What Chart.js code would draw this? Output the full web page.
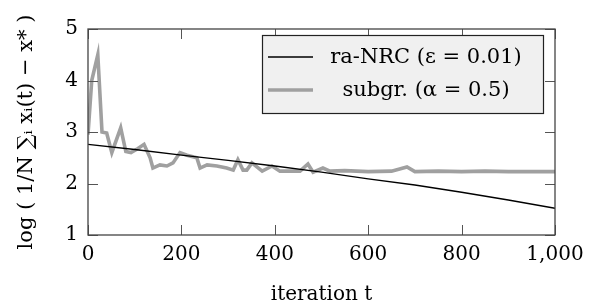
<!DOCTYPE html>
<html>
<head>
<meta charset="utf-8">
<script src="https://cdn.jsdelivr.net/npm/chart.js@4.4.1/dist/chart.umd.min.js"></script>
<style>
  html, body { margin: 0; padding: 0; background: #fff; }
  #wrap { width: 602px; height: 307px; position: relative; }
</style>
</head>
<body>
<div id="wrap"><canvas id="c"></canvas></div>
<script>
// ra-NRC (eps = 0.01)
const nrcT = [0, 100, 200, 300, 400, 500, 600, 700, 800, 900, 1000]
const nrcV = [2.76, 2.66, 2.55, 2.45, 2.34, 2.22, 2.09, 1.97, 1.83, 1.68, 1.52]

// subgradient (alpha = 0.5)
const subT = [0, 8, 21, 30, 40, 51, 70, 81, 92, 107, 120, 133, 139, 154, 169, 182, 197, 212, 233, 240,
  255, 276, 297, 311, 321, 332, 340, 351, 373, 394, 411, 454, 471, 482, 503, 518, 550, 600, 650, 683,
  700, 750, 800, 850, 900, 950, 1000]
const subV = [2.95, 4.0, 4.5, 3.0, 2.98, 2.6, 3.08, 2.62, 2.6, 2.68, 2.76, 2.5, 2.3, 2.36, 2.34, 2.4, 2.6, 2.55, 2.5, 2.3,
  2.36, 2.34, 2.3, 2.26, 2.46, 2.26, 2.26, 2.4, 2.24, 2.34, 2.24, 2.24, 2.38, 2.22, 2.3, 2.24, 2.25, 2.23, 2.24, 2.32,
  2.23, 2.24, 2.23, 2.24, 2.23, 2.23, 2.23]

const xTicks = [0, 200, 400, 600, 800, 1000]
const yTicks = [1, 2, 3, 4, 5]
const labels = ['ra-NRC (\u03B5 = 0.01)', 'subgr. (\u03B1 = 0.5)']

const serif = '"DejaVu Serif", "Liberation Serif", serif'
const gray = 'rgb(160,160,160)'

// frame, inner tick marks and the boxed legend
const pgfLook = {
  id: 'pgfLook',
  afterDatasetsDraw(chart) {
    const ctx = chart.ctx
    const a = chart.chartArea
    const xs = chart.scales.x
    const ys = chart.scales.y
    ctx.save()
    ctx.strokeStyle = '#555'
    ctx.lineWidth = 1
    ctx.beginPath()
    xTicks.forEach(t => {
      const px = Math.round(xs.getPixelForValue(t)) + 0.5
      ctx.moveTo(px, a.bottom); ctx.lineTo(px, a.bottom - 10)
      ctx.moveTo(px, a.top); ctx.lineTo(px, a.top + 10)
    })
    yTicks.forEach(v => {
      const py = Math.round(ys.getPixelForValue(v)) + 0.5
      ctx.moveTo(a.left, py); ctx.lineTo(a.left + 10, py)
      ctx.moveTo(a.right, py); ctx.lineTo(a.right - 10, py)
    })
    ctx.stroke()
    ctx.strokeStyle = '#444'
    ctx.lineWidth = 1.3
    ctx.strokeRect(a.left, a.top, a.right - a.left, a.bottom - a.top)

    // legend
    const lx = 262, ly = 35, lw = 281, lh = 78
    ctx.fillStyle = '#f0f0f0'
    ctx.fillRect(lx, ly, lw, lh)
    ctx.strokeStyle = '#222'
    ctx.lineWidth = 1.2
    ctx.strokeRect(lx + 0.5, ly + 0.5, lw, lh)
    ctx.font = '21px ' + serif
    ctx.textBaseline = 'middle'
    ctx.textAlign = 'center'
    chart.data.datasets.forEach((ds, i) => {
      const cy = ly + 22 + i * 33
      ctx.strokeStyle = ds.borderColor
      ctx.lineWidth = ds.borderWidth
      ctx.beginPath()
      ctx.moveTo(lx + 6, cy); ctx.lineTo(lx + 51, cy)
      ctx.stroke()
      ctx.fillStyle = '#000'
      ctx.fillText(ds.label, lx + 164, cy + 1)
    })
    ctx.restore()
  }
}

const ctx = document.getElementById('c').getContext('2d')
new Chart(ctx, {
  type: 'scatter',
  data: {
    datasets: [
      {
        label: labels[0],
        data: nrcT.map((t, i) => ({ x: t, y: nrcV[i] })),
        showLine: true,
        borderColor: '#000',
        borderWidth: 1.4,
        pointRadius: 0,
        tension: 0,
      },
      {
        label: labels[1],
        data: subT.map((t, i) => ({ x: t, y: subV[i] })),
        showLine: true,
        borderColor: gray,
        borderWidth: 3.6,
        pointRadius: 0,
        tension: 0,
        borderJoinStyle: 'miter',
      },
    ]
  },
  options: {
    responsive: true,
    maintainAspectRatio: false,
    animation: false,
    layout: { padding: { top: 29, right: 47, bottom: 0, left: 0 } },
    scales: {
      x: {
        type: 'linear',
        min: 0,
        max: 1000,
        afterFit: s => { s.height = 72 },
        afterBuildTicks: s => { s.ticks = xTicks.map(v => ({ value: v })) },
        grid: { display: false, drawTicks: false },
        border: { display: false },
        ticks: {
          padding: 8,
          color: '#000',
          font: { family: serif, size: 20 },
          callback: v => v.toLocaleString('en-US'),
        },
        title: {
          display: true,
          text: 'iteration t',
          color: '#000',
          font: { family: serif, size: 20 },
          padding: { top: 0, bottom: 0 },
        },
      },
      y: {
        min: 1,
        max: 5,
        afterFit: s => { s.width = 88 },
        afterBuildTicks: s => { s.ticks = yTicks.map(v => ({ value: v })) },
        grid: { display: false, drawTicks: false },
        border: { display: false },
        ticks: {
          padding: 10,
          color: '#000',
          font: { family: serif, size: 20 },
        },
        title: {
          display: true,
          text: 'log ( 1/N \u2211\u1D62 x\u1D62(t) \u2212 x* )',
          color: '#000',
          font: { family: serif, size: 21 },
          padding: { top: 14, bottom: 0 },
        },
      }
    },
    plugins: {
      legend: { display: false },
      tooltip: { enabled: false },
    }
  },
  plugins: [pgfLook]
})
</script>
</body>
</html>
